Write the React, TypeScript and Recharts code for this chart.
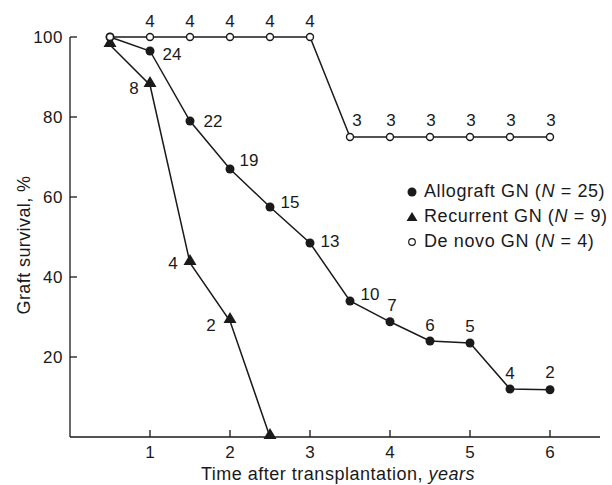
import { LineChart, Line, XAxis, YAxis, LabelList, Label } from 'recharts'

// years after transplantation
const times = [0.5, 1, 1.5, 2, 2.5, 3, 3.5, 4, 4.5, 5, 5.5, 6]

const allograft = [100, 96.5, 79, 67, 57.5, 48.5, 34, 28.8, 24, 23.5, 12, 11.8]
const allograftN = ['', '24', '22', '19', '15', '13', '10', '7', '6', '5', '4', '2']

const recurrentTimes = [0.5, 1, 1.5, 2, 2.5]
const recurrent = [98, 88, 43.5, 29, 0]
const recurrentN = ['', '8', '4', '2', '']

const deNovo = [100, 100, 100, 100, 100, 100, 75, 75, 75, 75, 75, 75]
const deNovoN = ['', '4', '4', '4', '4', '4', '3', '3', '3', '3', '3', '3']

const xTicks = [1, 2, 3, 4, 5, 6]
const yTicks = [20, 40, 60, 80, 100]

const tableData = times.map((t, i) => ({
  t,
  a: allograft[i],
  aN: allograftN[i],
  d: deNovo[i],
  dN: deNovoN[i],
}))
const recurrentData = recurrentTimes.map((t, i) => ({ t, r: recurrent[i], rN: recurrentN[i] }))

const FONT = '"Liberation Sans", Arial, sans-serif'
const INK = '#1a1a1a'

// label offsets (dx, dy) per point
const allograftOffsets = [
  [0, 0], [22, 3], [23, 0], [19, -9], [20, -5], [20, -2],
  [20, -7], [2, -16], [0, -16], [0, -17], [0, -16], [0, -17],
]
const recurrentOffsets = [[0, 0], [-16, 3], [-17, 0], [-19, 4], [0, 0]]
const deNovoOffsets = [
  [0, 0], [0, -16], [0, -16], [0, -16], [0, -16], [0, -16],
  [7, -17], [1, -17], [1, -17], [1, -17], [1, -17], [1, -17],
]

const makeLabel = (offsets: number[][]) => (props: any) => {
  const { x, y, value, index } = props
  if (value === '' || value == null) return null
  const [dx, dy] = offsets[index] || [0, 0]
  return (
    <text
      x={x + dx}
      y={y + dy}
      textAnchor="middle"
      dominantBaseline="central"
      fontFamily={FONT}
      fontSize={17}
      fill={INK}
    >
      {value}
    </text>
  )
}

const FilledDot = (props: any) => {
  const { cx, cy, index } = props
  if (cx == null || cy == null) return <g key={index} />
  return <circle key={index} cx={cx} cy={cy} r={4.5} fill={INK} />
}

const OpenDot = (props: any) => {
  const { cx, cy, index } = props
  if (cx == null || cy == null) return <g key={index} />
  return <circle key={index} cx={cx} cy={cy} r={3.5} fill="#fff" stroke={INK} strokeWidth={1.4} />
}

const Triangle = (props: any) => {
  const { cx, cy, index } = props
  if (cx == null || cy == null) return <g key={index} />
  return (
    <polygon
      key={index}
      points={`${cx},${cy - 9} ${cx - 6.5},${cy + 2} ${cx + 6.5},${cy + 2}`}
      fill={INK}
    />
  )
}

const YTick = (props: any) => {
  const { x, y, payload } = props
  return (
    <g>
      <line x1={x} x2={x + 7} y1={y} y2={y} stroke={INK} strokeWidth={1.3} />
      <text x={x - 7} y={y} dy={6} textAnchor="end" fontFamily={FONT} fontSize={17} letterSpacing={0.5} fill={INK}>
        {payload.value}
      </text>
    </g>
  )
}

const XTick = (props: any) => {
  const { x, y, payload } = props
  return (
    <g>
      <line x1={x} x2={x} y1={y} y2={y - 7} stroke={INK} strokeWidth={1.3} />
      <text x={x} y={y + 21} textAnchor="middle" fontFamily={FONT} fontSize={17} fill={INK}>
        {payload.value}
      </text>
    </g>
  )
}

const legendRows = [
  { name: 'Allograft GN', n: 25, marker: 'filled' },
  { name: 'Recurrent GN', n: 9, marker: 'triangle' },
  { name: 'De novo GN', n: 4, marker: 'open' },
]

const LegendMarker = ({ kind }: { kind: string }) => (
  <svg width={14} height={14} style={{ display: 'block' }}>
    {kind === 'filled' && <circle cx={7} cy={7} r={4.5} fill={INK} />}
    {kind === 'triangle' && <polygon points="7,2 1.5,11 12.5,11" fill={INK} />}
    {kind === 'open' && <circle cx={7} cy={7} r={3.3} fill="#fff" stroke={INK} strokeWidth={1.2} />}
  </svg>
)

export default function App() {
  return (
    <div style={{ position: 'absolute', left: 0, top: 0, width: 612, height: 485, background: '#fff' }}>
      <LineChart
        width={612}
        height={485}
        data={tableData}
        margin={{ top: 37, right: 12, bottom: 47, left: 69 }}
      >
        <XAxis
          type="number"
          dataKey="t"
          domain={[0, 6.625]}
          ticks={xTicks}
          interval={0}
          height={1}
          tickSize={0}
          tickMargin={0}
          tickLine={false}
          tick={<XTick />}
          axisLine={{ stroke: INK, strokeWidth: 1.3 }}
        >
          <Label
            content={() => (
              <text x={338} y={480} textAnchor="middle" fontFamily={FONT} fontSize={18} letterSpacing={0.5} fill={INK}>
                Time after transplantation, <tspan fontStyle="italic">years</tspan>
              </text>
            )}
          />
        </XAxis>
        <YAxis
          type="number"
          domain={[0, 100]}
          ticks={yTicks}
          interval={0}
          width={1}
          tickSize={0}
          tickMargin={0}
          tickLine={false}
          tick={<YTick />}
          axisLine={{ stroke: INK, strokeWidth: 1.3 }}
        >
          <Label
            content={() => (
              <text
                x={30}
                y={245}
                transform="rotate(-90, 30, 245)"
                textAnchor="middle"
                fontFamily={FONT}
                fontSize={18}
                letterSpacing={0.4}
                fill={INK}
              >
                Graft survival, %
              </text>
            )}
          />
        </YAxis>
        <Line
          dataKey="a"
          type="linear"
          stroke={INK}
          strokeWidth={1.5}
          dot={FilledDot}
          isAnimationActive={false}
        >
          <LabelList dataKey="aN" content={makeLabel(allograftOffsets)} />
        </Line>
        <Line
          data={recurrentData}
          dataKey="r"
          type="linear"
          stroke={INK}
          strokeWidth={1.5}
          dot={Triangle}
          isAnimationActive={false}
        >
          <LabelList dataKey="rN" content={makeLabel(recurrentOffsets)} />
        </Line>
        <Line
          dataKey="d"
          type="linear"
          stroke={INK}
          strokeWidth={1.5}
          dot={OpenDot}
          isAnimationActive={false}
        >
          <LabelList dataKey="dN" content={makeLabel(deNovoOffsets)} />
        </Line>
      </LineChart>
      <div
        style={{
          position: 'absolute',
          left: 405,
          top: 179,
          fontFamily: FONT,
          fontSize: 18,
          letterSpacing: 0.6,
          color: INK,
        }}
      >
        {legendRows.map((r) => (
          <div key={r.name} style={{ display: 'flex', alignItems: 'center', height: 25 }}>
            <LegendMarker kind={r.marker} />
            <span style={{ marginLeft: 5, whiteSpace: 'nowrap' }}>
              {r.name} (<i>N</i> = {r.n})
            </span>
          </div>
        ))}
      </div>
    </div>
  )
}
